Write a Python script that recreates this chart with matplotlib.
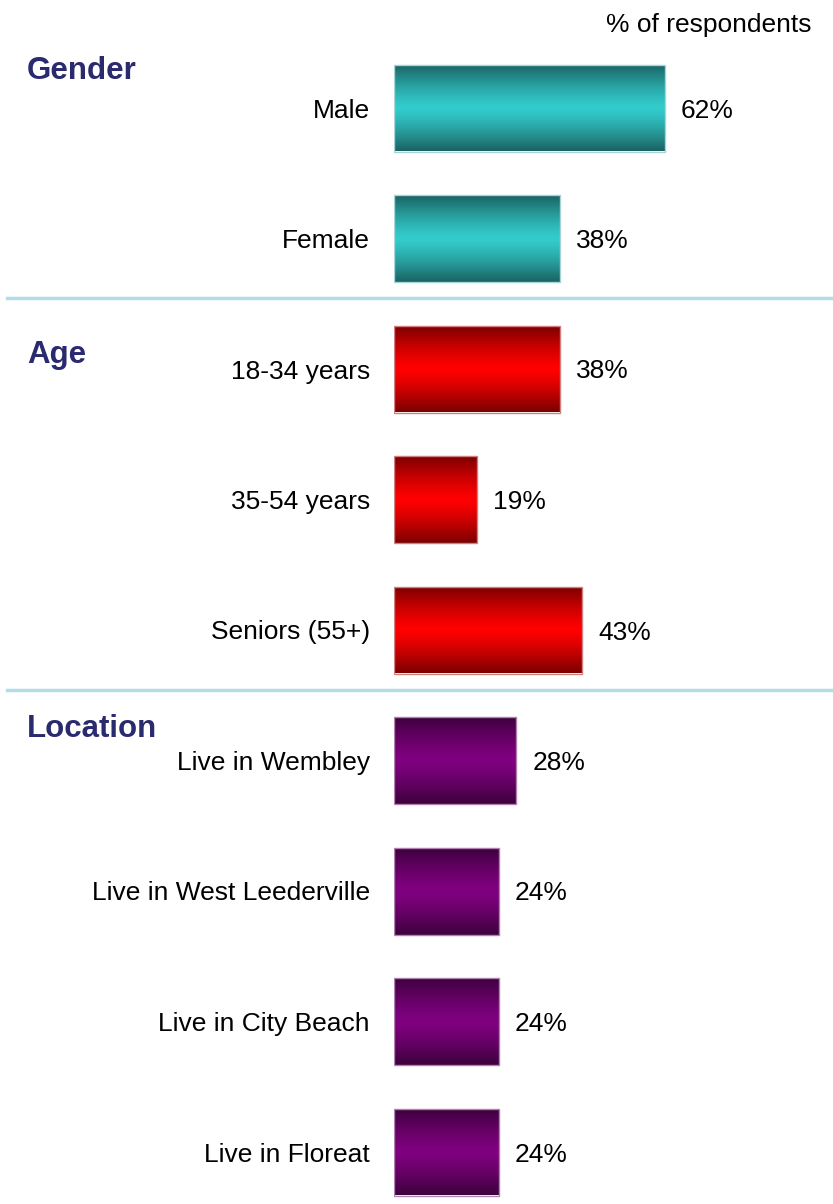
import numpy as np
import matplotlib.pyplot as plt
from matplotlib.colors import LinearSegmentedColormap

plt.rcParams['font.family'] = ['Liberation Sans', 'DejaVu Sans']

categories = ['Male', 'Female',
              '18-34 years', '35-54 years', 'Seniors (55+)',
              'Live in Wembley', 'Live in West Leederville',
              'Live in City Beach', 'Live in Floreat']
values = [62, 38, 38, 19, 43, 28, 24, 24, 24]
groups = ['Gender', 'Gender', 'Age', 'Age', 'Age',
          'Location', 'Location', 'Location', 'Location']
group_names = ['Gender', 'Age', 'Location']

# dark edge colour, bright centre colour
group_colors = {'Gender': ('#1a6262', '#33cccc'),
                'Age': ('#7a0000', '#ff0000'),
                'Location': ('#3c003c', '#800080')}
edge_colors = {'Gender': '#a8d4d8', 'Age': '#d08080', 'Location': '#b080b0'}

W, H = 833, 1204
fig = plt.figure(figsize=(W / 100, H / 100), dpi=100)

px_left = 394
px_per_pct = 4.37
ax = fig.add_axes([px_left / W, 0, (W - px_left) / W, 1])
row_px = 130.5
top_px = 108
ax.set_xlim(0, (W - px_left) / px_per_pct)
ax.set_ylim((H - top_px) / row_px, -top_px / row_px)
ax.axis('off')

bar_h = 87 / row_px
y = np.arange(len(categories))
bars = ax.barh(y, values, height=bar_h, color='none', linewidth=1)

grad = np.abs(np.linspace(-1, 1, 256))[:, None]
for bar, g in zip(bars, groups):
    dark, bright = group_colors[g]
    cmap = LinearSegmentedColormap.from_list(g, [bright, dark], N=256)
    x0, y0 = bar.get_x(), bar.get_y()
    w, h = bar.get_width(), bar.get_height()
    im = ax.imshow(grad ** 1.3, cmap=cmap, aspect='auto', vmin=0, vmax=1,
                   extent=(x0, x0 + w, y0 + h, y0), zorder=1)
    im.set_clip_path(bar)
    bar.set_edgecolor(edge_colors[g])
    bar.set_zorder(2)

lab_off = 24 / px_per_pct
val_off = 16 / px_per_pct
txt_dy = 2.5 / row_px
for yi, cat, v in zip(y, categories, values):
    ax.text(-lab_off, yi + txt_dy, cat, ha='right', va='center', fontsize=19,
            color='black', clip_on=False)
    ax.text(v + val_off, yi + txt_dy, f'{v}%', ha='left', va='center',
            fontsize=19, color='black')

# group titles
title_rows = {'Gender': -0.285, 'Age': 1.89, 'Location': 4.76}
title_x = -(px_left - 27) / px_per_pct
for name in group_names:
    ax.text(title_x, title_rows[name], name, ha='left', va='center',
            fontsize=22.5, fontweight='bold', color='#2a2a6e', clip_on=False)

# separators between groups
for sep in [1.456, 4.46]:
    ax.axhline(sep, xmin=-(px_left - 7) / (W - px_left), xmax=1,
               color='#b4dce4', linewidth=2.5, clip_on=False)

ax.text((812 - px_left) / (W - px_left), (25 - top_px) / row_px,
        '% of respondents', ha='right', va='center', fontsize=19,
        color='black', transform=ax.get_yaxis_transform())

fig.savefig('out.png', dpi=100)
